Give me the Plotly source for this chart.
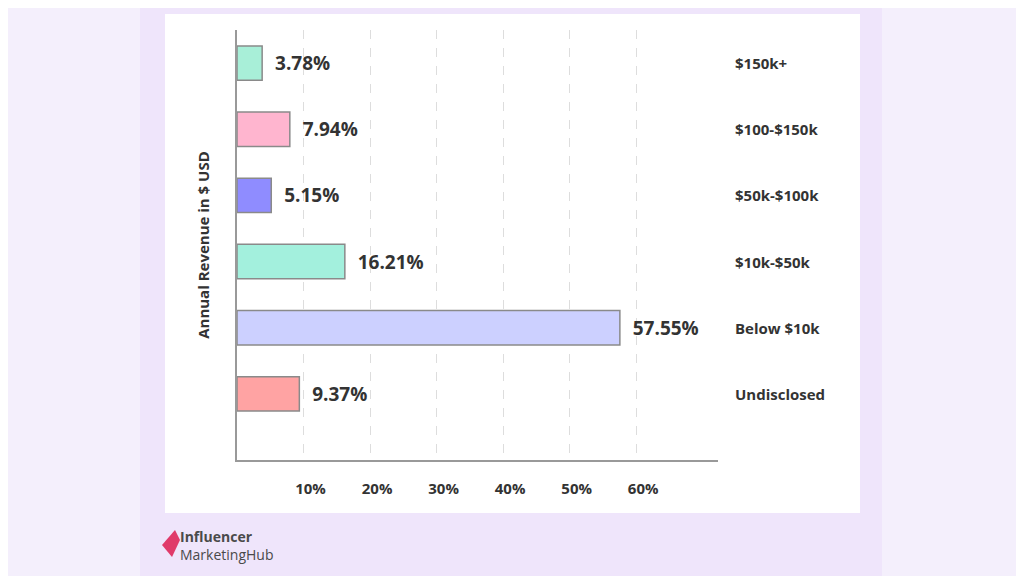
import plotly.graph_objects as go

categories = ["Undisclosed", "Below $10k", "$10k-$50k", "$50k-$100k", "$100-$150k", "$150k+"]
values = [9.37, 57.55, 16.21, 5.15, 7.94, 3.78]
colors = ["#ffa3a3", "#ccd0ff", "#a3f0dd", "#8f8cff", "#ffb5cf", "#a8efd8"]
tick_vals = [10, 20, 30, 40, 50, 60]
tick_text = ["<b>10%</b>", "<b>20%</b>", "<b>30%</b>", "<b>40%</b>", "<b>50%</b>", "<b>60%</b>"]

O = 8  # page body offset
L, R, T, B = 237 - O, 718 - O, 30 - O, 460 - O
def px(x): return (x - O - L) / (R - L)
def py(y): return (B - (y - O)) / (B - T)

fig = go.Figure(go.Bar(
    y=list(range(len(categories))), x=values, orientation="h",
    marker=dict(color=colors, line=dict(color="#8a8a8a", width=1.5)),
    width=0.52, text=[f"{v:.2f}%" for v in values], textposition="outside",
    textfont=dict(family="Open Sans", size=19, color="#333333"),
    texttemplate="  <b>%{text}</b>", cliponaxis=False,
))

shapes = [
    dict(type="rect", xref="paper", yref="paper", x0=px(140), x1=px(882), y0=py(600), y1=py(-10),
         fillcolor="#efe5fb", line=dict(width=0), layer="below"),
    dict(type="rect", xref="paper", yref="paper", x0=px(165), x1=px(860), y0=py(513), y1=py(14),
         fillcolor="white", line=dict(width=0), layer="below"),
    dict(type="path", xref="paper", yref="paper",
         path=f"M{px(162)},{py(545)} L{px(175)},{py(530)} L{px(180)},{py(540)} L{px(172)},{py(557)} Z",
         fillcolor="#e03a6a", line=dict(width=0)),
]
annotations = [
    dict(xref="paper", yref="y", x=px(733), y=i, text=f"<b>{c}</b>", showarrow=False,
         xanchor="left", font=dict(family="Open Sans", size=15, color="#333333"))
    for i, c in enumerate(categories)
]
annotations.append(
    dict(xref="paper", yref="paper", x=px(178), y=py(545), text="<b>Influencer</b><br>MarketingHub",
         showarrow=False, xanchor="left", yanchor="middle", align="left",
         font=dict(family="Open Sans", size=14, color="#4a4a4a"))
)

fig.update_layout(
    width=1024, height=576, margin=dict(l=L, r=1024 - R, t=T, b=576 - B),
    paper_bgcolor="#f4effc", plot_bgcolor="white", showlegend=False,
    shapes=shapes, annotations=annotations,
    xaxis=dict(range=[0, 72.3], tickvals=tick_vals, ticktext=tick_text, ticklabelshift=7,
               ticklabelstandoff=14,
               showgrid=True, gridcolor="#dddddd", griddash="dash", zeroline=False,
               showline=True, linecolor="#999999", linewidth=1.5, ticks="", ticklen=0,
               tickfont=dict(family="Open Sans", size=15, color="#333333")),
    yaxis=dict(range=[-1, 5.5], showticklabels=False, showgrid=False, zeroline=False,
               showline=True, linecolor="#999999", linewidth=1.5,
               title=dict(text="<b>Annual Revenue in $ USD</b>", standoff=22,
                          font=dict(family="Open Sans", size=15, color="#333333"))),
)
fig.write_html("out.html")
